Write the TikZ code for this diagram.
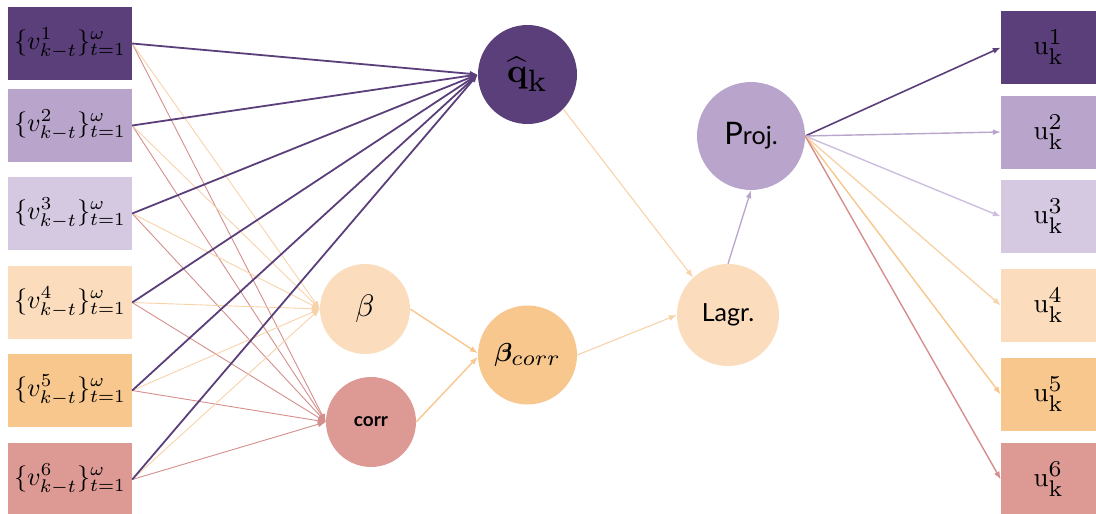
\RequirePackage{fix-cm}
\documentclass[tikz,border=0pt]{standalone}
\usepackage{graphicx}
\usepackage{fontspec}
\usepackage{bm}
\newfontfamily\lato{Lato}
\usetikzlibrary{arrows.meta}
\definecolor{cA}{HTML}{5B3F7A}
\definecolor{cB}{HTML}{B9A5CC}
\definecolor{cC}{HTML}{D5C9E2}
\definecolor{cD}{HTML}{FBDDBE}
\definecolor{cE}{HTML}{F7C78E}
\definecolor{cF}{HTML}{DD9A94}
\definecolor{lD}{HTML}{F8D3AA}
\definecolor{lF}{HTML}{D48E8C}
\definecolor{lC}{HTML}{CDBEDD}
\newcommand{\vlab}[1]{\scalebox{2.62}{$\{v^{#1}_{k-t}\}^{\omega}_{t=1}$}}
\newcommand{\bigscr}[2]{\scalebox{#1}{$\scriptstyle #2$}}
\newcommand{\ulab}[1]{\scalebox{2.7}{$\mathrm{u}^{\bigscr{1.2}{#1}}_{\bigscr{1.2}{\mathrm{k}}}$}}
\begin{document}
\begin{tikzpicture}[x=1pt,y=-1pt,
  inbox/.style={rectangle,minimum width=124pt,minimum height=73pt,inner sep=0pt},
  outbox/.style={rectangle,minimum width=95pt,minimum height=73pt,inner sep=0pt},
  circ/.style={circle,inner sep=0pt},
  tip/.style={-{Latex[length=8pt,width=6pt]}},
  thinl/.style={tip,line width=0.9pt},
  thickl/.style={tip,line width=1.8pt}
]
\useasboundingbox (0,0) rectangle (1096,514);
% input boxes
\node[inbox,fill=cA] (v1) at (70,43.5) {\vlab{1}};
\node[inbox,fill=cB] (v2) at (70,125.5) {\vlab{2}};
\node[inbox,fill=cC] (v3) at (70,213.5) {\vlab{3}};
\node[inbox,fill=cD] (v4) at (70,302.5) {\vlab{4}};
\node[inbox,fill=cE] (v5) at (70,390.5) {\vlab{5}};
\node[inbox,fill=cF] (v6) at (70,479.5) {\vlab{6}};
% output boxes
\node[outbox,fill=cA] (u1) at (1048.5,47.5) {\ulab{1}};
\node[outbox,fill=cB] (u2) at (1048.5,132) {\ulab{2}};
\node[outbox,fill=cC] (u3) at (1048.5,216.5) {\ulab{3}};
\node[outbox,fill=cD] (u4) at (1048.5,305.5) {\ulab{4}};
\node[outbox,fill=cE] (u5) at (1048.5,394.5) {\ulab{5}};
\node[outbox,fill=cF] (u6) at (1048.5,479.5) {\ulab{6}};
% circles
\node[circ,fill=cA,minimum size=99pt] (q) at (527.5,74.5) {\scalebox{3.4}{$\bm{\widehat{\mathbf{q}}}_{\bigscr{1.3}{\mathrm{k}}}$}};
\node[circ,fill=cD,minimum size=90pt] (beta) at (365,309) {\scalebox{3.1}{$\beta$}};
\node[circ,fill=cF,minimum size=90pt,font=\fontsize{19}{22}\selectfont] (corr) at (371,422) {\lato\bfseries corr};
\node[circ,fill=cE,minimum size=99pt] (bc) at (527.5,355) {\scalebox{2.6}{$\bm{\beta}_{\bigscr{1.2}{corr}}$}};
\node[circ,fill=cD,minimum size=102pt,font=\fontsize{25}{27}\selectfont] (lagr) at (728,315) {\lato Lagr.};
\node[circ,fill=cB,minimum size=108pt] (proj) at (751,136) {\lato{\fontsize{31}{32}\selectfont P}{\fontsize{25}{26}\selectfont roj.}};
% connectors from inputs
\foreach \i in {1,...,6} {
  \draw[thinl,lF] (v\i.east) -- (corr.west);
  \draw[thinl,lD] (v\i.east) -- (beta.west);
}
\foreach \i in {1,...,6} {
  \draw[thickl,cA] (v\i.east) -- (q.west);
}
% middle connectors
\draw[tip,line width=1.4pt,cE] (beta.east) -- (bc.178);
\draw[tip,line width=1.4pt,cE] (corr.east) -- (bc.182);
\draw[tip,line width=1.1pt,lD] (q.-44) -- (lagr.133);
\draw[tip,line width=1.1pt,lD] (bc.east) -- (lagr.west);
\draw[tip,line width=1.3pt,cB] (lagr.north) -- (proj.south);
% outputs
\draw[thickl,cA,line width=1.6pt] (proj.east) -- (u1.west);
\draw[thickl,cB,line width=1.4pt] (proj.east) -- (u2.west);
\draw[thickl,lC,line width=1.4pt] (proj.east) -- (u3.west);
\draw[thickl,lD,line width=1.4pt] (proj.east) -- (u4.west);
\draw[thickl,cE,line width=1.4pt] (proj.east) -- (u5.west);
\draw[thickl,lF,line width=1.4pt] (proj.east) -- (u6.west);
\end{tikzpicture}
\end{document}
